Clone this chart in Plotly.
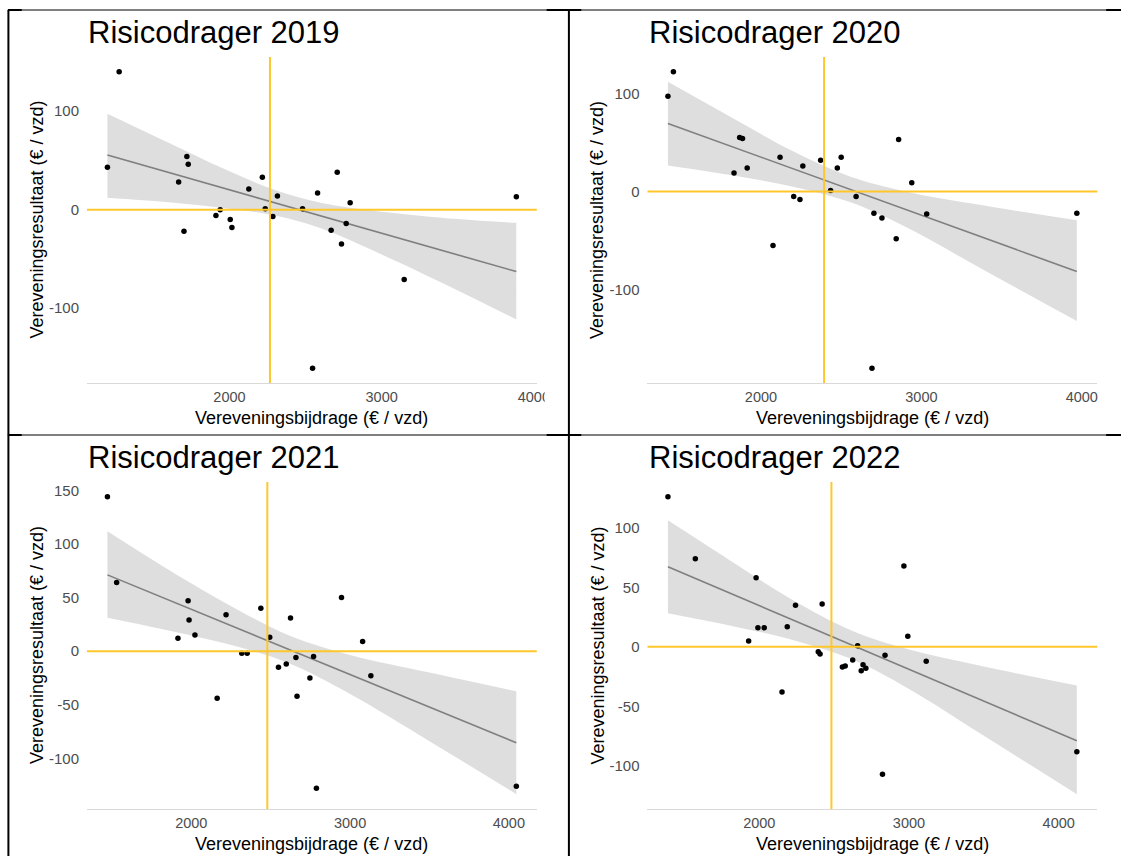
import numpy as np
import plotly.graph_objects as go

# Vereveningsbijdrage (x) en vereveningsresultaat (y) per risicodrager, per jaar
bijdrage_2019 = [1198, 1275, 1666, 1701, 1720, 1729, 1911, 1939, 2005, 2016, 2127, 2216, 2235,
                 2285, 2315, 2480, 2546, 2579, 2668, 2708, 2736, 2767, 2793, 3148, 3885]
resultaat_2019 = [43, 140, 28, -22, 54, 46, -6, 0, -10, -18, 21, 33, 1,
                  -7, 14, 1, -161, 17, -21, 38, -35, -14, 7, -71, 13]

bijdrage_2020 = [1420, 1454, 1832, 1867, 1885, 1914, 2075, 2119, 2204, 2243, 2261, 2372,
                 2434, 2476, 2500, 2593, 2692, 2704, 2754, 2843, 2858, 2940, 3033, 3969]
resultaat_2020 = [97, 122, 19, 55, 54, 24, -55, 35, -5, -8, 26, 32,
                  1, 24, 35, -5, -180, -22, -27, -48, 53, 9, -23, -22]

bijdrage_2021 = [1472, 1530, 1916, 1980, 1986, 2023, 2163, 2219, 2318, 2352, 2438, 2494,
                 2549, 2598, 2625, 2659, 2666, 2747, 2770, 2788, 2946, 3079, 3131, 4047]
resultaat_2021 = [144, 64, 12, 47, 29, 15, -44, 34, -2, -2, 40, 13,
                  -15, -12, 31, -6, -42, -25, -5, -128, 50, 9, -23, -126]

bijdrage_2022 = [1390, 1573, 1929, 1979, 1991, 2033, 2152, 2187, 2242, 2394, 2406, 2420, 2555,
                 2574, 2624, 2657, 2681, 2693, 2712, 2823, 2840, 2966, 2992, 3115, 4121]
resultaat_2022 = [126, 74, 5, 58, 16, 16, -38, 17, 35, -4, -6, 36, -17,
                  -16, -11, 1, -20, -15, -18, -107, -7, 68, 9, -12, -88]

# Trendlijn (waarde bij laagste en hoogste bijdrage) en 95%-betrouwbaarheidsband
trend_2019 = [55.5, -62.9]
band_x_2019 = [1198, 1600, 2000, 2300, 2600, 3000, 3500, 3885]
band_hi_2019 = [97.5, 68, 39, 20, 7, -2, -9.5, -13.4]
band_lo_2019 = [12.1, 7.5, 1, -6, -19, -45.5, -82, -111.6]

trend_2020 = [69.4, -81.5]
band_x_2020 = [1420, 1800, 2200, 2550, 2900, 3400, 3969]
band_hi_2020 = [111.8, 77, 41, 15.5, 0, -14.6, -29.3]
band_lo_2020 = [26.6, 17, 5, -10.5, -36, -81, -132]

trend_2021 = [71.2, -85.4]
band_x_2021 = [1472, 1900, 2300, 2620, 3000, 3500, 4047]
band_hi_2021 = [111.8, 72, 38, 14.4, -3.6, -20, -37.5]
band_lo_2021 = [31.3, 18, 4, -11.6, -40, -84, -133.4]

trend_2022 = [67.3, -78.8]
band_x_2022 = [1390, 1800, 2200, 2620, 3000, 3500, 4121]
band_hi_2022 = [106.3, 73, 41, 13.5, -2.2, -16.5, -32.5]
band_lo_2022 = [28.3, 18, 6.6, -10.5, -35.4, -74.7, -123.7]

years = [2019, 2020, 2021, 2022]
x_ticks = [2000, 3000, 4000]
y_ticks = {
    2019: [-100, 0, 100],
    2020: [-100, 0, 100],
    2021: [-100, -50, 0, 50, 100, 150],
    2022: [-100, -50, 0, 50, 100],
}
data = {
    2019: (bijdrage_2019, resultaat_2019, trend_2019, band_x_2019, band_hi_2019, band_lo_2019),
    2020: (bijdrage_2020, resultaat_2020, trend_2020, band_x_2020, band_hi_2020, band_lo_2020),
    2021: (bijdrage_2021, resultaat_2021, trend_2021, band_x_2021, band_hi_2021, band_lo_2021),
    2022: (bijdrage_2022, resultaat_2022, trend_2022, band_x_2022, band_hi_2022, band_lo_2022),
}

W, H = 1134, 856
FONT = "Liberation Sans, Arial, sans-serif"
YELLOW = "#FFC72C"
BAND = "rgba(153,153,153,0.32)"
FITLINE = "#7F7F7F"
TICKGREY = "#4D4D4D"

# plot areas in pixels: (left, right, top, bottom)
panels = {
    2019: (88, 543, 57, 383),
    2020: (655, 1110, 57, 383),
    2021: (88, 543, 482, 809),
    2022: (655, 1110, 482, 809),
}


def px(xp):
    return xp / W


def py(yp):
    return 1 - yp / H


def expand(lo, hi, frac=0.05):
    r = hi - lo
    return [lo - frac * r, hi + frac * r]


fig = go.Figure()
shapes = []
annotations = []

for i, yr in enumerate(years):
    k = "" if i == 0 else str(i + 1)
    xa, ya = "x" + k, "y" + k
    x, y, trend, bx, bhi, blo = data[yr]
    left, right, top, bottom = panels[yr]

    xr = expand(min(x), max(x))
    yr_range = expand(min(min(y), min(blo)), max(max(y), max(bhi)))

    # confidence band
    fig.add_trace(go.Scatter(x=bx, y=blo, mode="lines", line=dict(width=0, shape="spline"),
                             hoverinfo="skip", showlegend=False, xaxis=xa, yaxis=ya))
    fig.add_trace(go.Scatter(x=bx, y=bhi, mode="lines", line=dict(width=0, shape="spline"),
                             fill="tonexty", fillcolor=BAND,
                             hoverinfo="skip", showlegend=False, xaxis=xa, yaxis=ya))

    # reference lines: mean contribution and zero result
    shapes.append(dict(type="line", xref=xa, yref=ya + " domain",
                       x0=float(np.mean(x)), x1=float(np.mean(x)), y0=0, y1=1,
                       line=dict(color=YELLOW, width=2), layer="above"))
    shapes.append(dict(type="line", xref=xa + " domain", yref=ya,
                       x0=0, x1=1, y0=0, y1=0,
                       line=dict(color=YELLOW, width=2), layer="above"))

    # trend line
    fig.add_trace(go.Scatter(x=[min(x), max(x)], y=trend, mode="lines",
                             line=dict(color=FITLINE, width=1.6),
                             hoverinfo="skip", showlegend=False, xaxis=xa, yaxis=ya))
    # risk bearers
    fig.add_trace(go.Scatter(x=x, y=y, mode="markers",
                             marker=dict(color="black", size=5.5),
                             showlegend=False, xaxis=xa, yaxis=ya))

    fig.update_layout(**{
        "xaxis" + k: dict(
            domain=[px(left), px(right)], anchor=ya, range=xr,
            tickvals=x_ticks, ticktext=[str(v) for v in x_ticks],
            showgrid=False, zeroline=False, showline=True, linecolor="#D9D9D9",
            linewidth=1, ticks="", ticklabelstandoff=1,
            tickfont=dict(family=FONT, size=14.5, color=TICKGREY)),
        "yaxis" + k: dict(
            domain=[py(bottom), py(top)], anchor=xa, range=yr_range,
            tickvals=y_ticks[yr], ticktext=[str(v) for v in y_ticks[yr]],
            showgrid=False, zeroline=False, showline=False, ticks="",
            ticklabelstandoff=7,
            tickfont=dict(family=FONT, size=15, color=TICKGREY)),
    })

    annotations.append(dict(text=f"Risicodrager {yr}", x=px(left - 1), y=py(top - 25),
                            xref="paper", yref="paper", xanchor="left", yanchor="middle",
                            showarrow=False, font=dict(family=FONT, size=31, color="black")))
    annotations.append(dict(text="Vereveningsbijdrage (€ / vzd)", x=px((left + right) / 2),
                            y=py(bottom + 35), xref="paper", yref="paper",
                            xanchor="center", yanchor="middle", showarrow=False,
                            font=dict(family=FONT, size=18, color="black")))
    annotations.append(dict(text="Vereveningsresultaat (€ / vzd)", x=px(left - 51),
                            y=py((top + bottom) / 2), xref="paper", yref="paper",
                            xanchor="center", yanchor="middle", textangle=-90,
                            showarrow=False, font=dict(family=FONT, size=18, color="black")))

# clipped edge of the first chart
shapes.append(dict(type="rect", xref="paper", yref="paper", x0=px(551), x1=px(574),
                   y0=py(406), y1=py(386), fillcolor="white", line=dict(width=0),
                   layer="above"))


# table frame around the four charts
def hline(yp, x0, x1, w):
    return dict(type="line", xref="paper", yref="paper", x0=px(x0), x1=px(x1),
                y0=py(yp), y1=py(yp), line=dict(color="black", width=w), layer="above")


def vline(xp, y0, y1, w):
    return dict(type="line", xref="paper", yref="paper", x0=px(xp), x1=px(xp),
                y0=py(y0), y1=py(y1), line=dict(color="black", width=w), layer="above")


for yline in (10, 435):
    shapes.append(hline(yline, 8, 1134, 1))
    for a, b in ((8, 22), (553, 588), (1119, 1134)):
        shapes.append(hline(yline, a, b, 2))
shapes.append(vline(8.5, 10, 856, 2))
shapes.append(vline(575.5, 10, 856, 2))

fig.update_layout(
    width=W, height=H, margin=dict(l=0, r=0, t=0, b=0),
    paper_bgcolor="white", plot_bgcolor="white",
    shapes=shapes, annotations=annotations, showlegend=False,
    font=dict(family=FONT),
)

fig.write_html("out.html")
